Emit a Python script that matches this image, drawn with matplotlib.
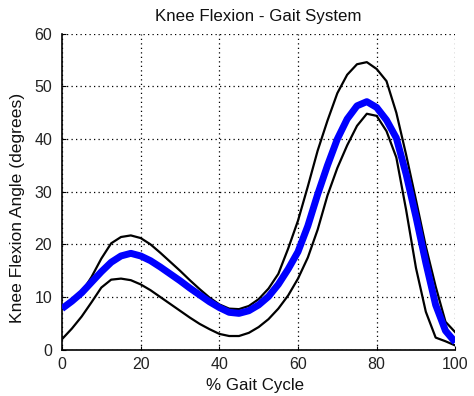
import numpy as np
import matplotlib
matplotlib.use("Agg")
import matplotlib.pyplot as plt

plt.rcParams['font.family'] = ['Liberation Sans', 'DejaVu Sans']

gait_pct = [0, 2.5, 5, 7.5, 10, 12.5, 15, 17.5, 20, 22.5, 25, 27.5, 30, 32.5, 35,
            37.5, 40, 42.5, 45, 47.5, 50, 52.5, 55, 57.5, 60, 62.5, 65, 67.5, 70,
            72.5, 75, 77.5, 80, 82.5, 85, 87.5, 90, 92.5, 95, 97.5, 100]

mean_angle = [7.8, 9.2, 10.8, 12.8, 14.8, 16.6, 17.8, 18.3, 17.8, 16.9, 15.7, 14.4,
              13.1, 11.7, 10.4, 9.1, 8.0, 7.1, 6.9, 7.4, 8.5, 10.1, 12.4, 15.3, 18.6,
              23.5, 29.5, 35.0, 40.0, 43.8, 46.3, 47.1, 46.0, 43.6, 40.2, 33.3, 25.2,
              16.5, 8.5, 3.6, 1.4]

upper_angle = [7.9, 9.3, 10.9, 13.8, 17.3, 20.2, 21.4, 21.7, 21.2, 20.0, 18.4, 16.7,
               15.0, 13.2, 11.5, 9.9, 8.6, 7.8, 7.7, 8.3, 9.6, 11.6, 14.4, 19.2, 24.5,
               31.0, 37.8, 43.5, 48.7, 52.2, 54.2, 54.6, 53.3, 51.0, 45.0, 37.0, 28.4,
               19.6, 12.0, 5.3, 3.3]

lower_angle = [2.0, 4.0, 6.3, 9.0, 11.8, 13.3, 13.5, 13.2, 12.4, 11.3, 10.0, 8.7,
               7.4, 6.1, 4.9, 3.9, 3.0, 2.6, 2.6, 3.2, 4.3, 5.8, 7.8, 10.3, 13.5,
               17.5, 22.8, 29.3, 34.5, 38.8, 42.5, 44.8, 44.4, 41.5, 36.5, 26.5, 15.5,
               7.2, 2.3, 1.6, 0.8]

x_ticks = [0, 20, 40, 60, 80, 100]
y_ticks = [0, 10, 20, 30, 40, 50, 60]

fig = plt.figure(figsize=(4.74, 3.96), dpi=100)
ax = fig.add_axes([0.1308, 0.1169, 0.8298, 0.798])

ax.plot(gait_pct, upper_angle, color='black', lw=1.6, zorder=3)
ax.plot(gait_pct, lower_angle, color='black', lw=1.6, zorder=3)
ax.plot(gait_pct, mean_angle, color=(0, 0, 1), lw=5, zorder=4, solid_capstyle='butt')

ax.set_xlim(0, 100)
ax.set_ylim(0, 60)
ax.set_xticks(x_ticks)
ax.set_yticks(y_ticks)
ax.grid(True, color='black', linestyle=(0, (1, 2.6)), linewidth=0.9)
ax.spines['top'].set_visible(False)
ax.spines['right'].set_visible(False)
ax.spines['left'].set_linewidth(1.2)
ax.spines['bottom'].set_linewidth(1.2)
ax.tick_params(direction='in', length=3, labelsize=11.5, colors='black')
ax.tick_params(axis='x', pad=5)
ax.tick_params(axis='y', pad=7)
for lbl in ax.get_xticklabels() + ax.get_yticklabels():
    lbl.set_color('#222222')

ax.set_title('Knee Flexion - Gait System', fontsize=12.2, pad=9, color='#111111')
ax.set_xlabel('% Gait Cycle', fontsize=12.2, color='#111111')
ax.set_ylabel('Knee Flexion Angle (degrees)', fontsize=12.6, color='#111111')
ax.xaxis.set_label_coords(0.492, -0.088)
ax.yaxis.set_label_coords(-0.094, 0.45)

fig.savefig('out.png', dpi=100)
